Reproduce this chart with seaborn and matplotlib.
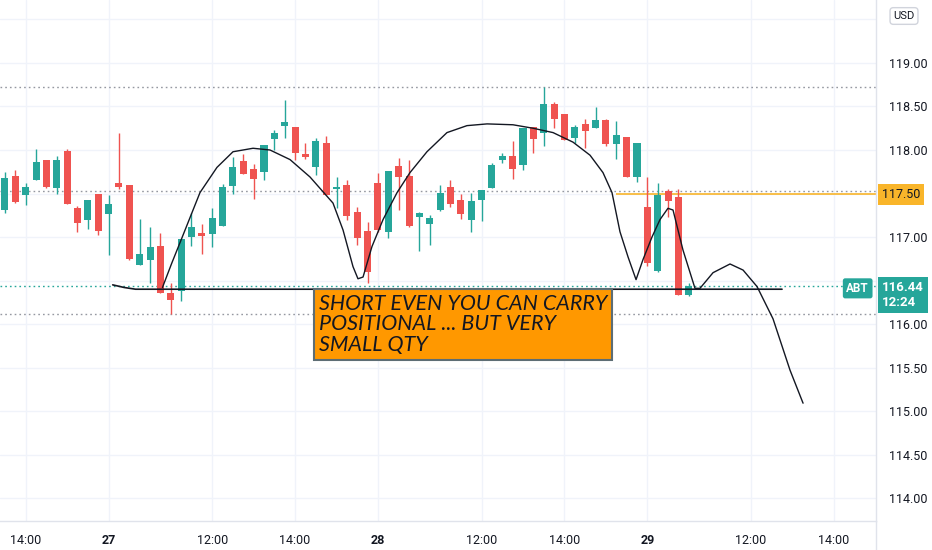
import numpy as np
import pandas as pd
import matplotlib
matplotlib.use('Agg')
import matplotlib.pyplot as plt
import matplotlib.transforms as mtransforms
import seaborn as sns

# ABT 15-minute bars, 26 -> 29
opens = [117.31, 117.70, 117.48, 117.66, 117.88, 117.56, 117.99, 117.33, 117.19, 117.49,
         117.27, 117.62, 117.60, 116.68, 116.74, 116.90, 116.36, 116.38, 117.00, 117.05,
         117.03, 117.13, 117.59, 117.87, 117.78, 117.75, 118.13, 118.28, 118.26, 117.95,
         117.81, 118.08, 117.55, 117.60, 117.29, 117.07, 117.62, 117.06, 117.82, 117.70,
         117.23, 117.15, 117.31, 117.57, 117.43, 117.19, 117.43, 117.56, 117.89, 117.93,
         117.83, 118.26, 118.20, 118.53, 118.41, 118.14, 118.30, 118.25, 118.34, 118.07,
         118.15, 117.69, 117.34, 116.61, 117.53, 117.46, 116.33]
highs = [117.75, 117.77, 117.62, 118.01, 117.89, 117.93, 118.01, 117.36, 117.43, 117.49,
         117.48, 118.20, 117.60, 117.21, 117.11, 117.05, 116.47, 116.98, 117.28, 117.15,
         117.33, 117.61, 117.92, 117.95, 117.84, 118.06, 118.23, 118.57, 118.26, 118.08,
         118.14, 118.16, 117.69, 117.66, 117.35, 117.17, 117.74, 117.76, 117.91, 117.89,
         117.29, 117.25, 117.60, 117.66, 117.50, 117.51, 117.54, 117.85, 117.96, 118.10,
         118.25, 118.26, 118.72, 118.55, 118.41, 118.29, 118.36, 118.49, 118.36, 118.33,
         118.15, 118.08, 117.69, 117.62, 117.55, 117.55, 116.47]
lows = [117.28, 117.39, 117.37, 117.65, 117.56, 117.49, 117.38, 117.06, 117.09, 117.02,
        116.79, 117.55, 116.74, 116.68, 116.47, 116.36, 116.11, 116.27, 116.90, 116.81,
        116.88, 117.13, 117.49, 117.72, 117.44, 117.66, 118.00, 118.14, 117.89, 117.90,
        117.71, 117.48, 117.33, 117.20, 116.91, 116.47, 117.06, 116.99, 117.31, 117.12,
        116.84, 116.91, 117.30, 117.35, 117.21, 117.06, 117.18, 117.56, 117.85, 117.67,
        117.77, 117.97, 118.05, 118.25, 118.12, 118.08, 118.02, 118.25, 118.05, 117.90,
        117.69, 117.63, 116.67, 116.60, 117.23, 116.33, 116.32]
closes = [117.68, 117.40, 117.57, 117.86, 117.57, 117.89, 117.38, 117.16, 117.43, 117.07,
          117.38, 117.58, 116.75, 116.80, 116.89, 116.36, 116.28, 116.98, 117.11, 117.01,
          117.22, 117.57, 117.80, 117.72, 117.67, 118.06, 118.20, 118.32, 117.97, 117.92,
          118.10, 117.48, 117.58, 117.24, 116.99, 116.60, 117.08, 117.76, 117.69, 117.13,
          117.28, 117.22, 117.51, 117.38, 117.27, 117.41, 117.54, 117.83, 117.93, 117.78,
          118.25, 118.13, 118.53, 118.36, 118.12, 118.27, 118.22, 118.34, 118.07, 118.17,
          117.69, 118.08, 116.70, 117.48, 117.41, 116.33, 116.44]

# x axis labels (bar index -> label)
tick_idx = [2, 10, 20, 28, 36, 46, 54, 62, 72, 80]
tick_labels = ['14:00', '27', '12:00', '14:00', '28', '12:00', '14:00', '29', '12:00', '14:00']
day_labels = ['27', '28', '29']
price_ticks = [114.0, 114.5, 115.0, 115.5, 116.0, 116.5, 117.0, 117.5, 118.0, 118.5, 119.0, 119.5]
hidden_ticks = [116.5, 117.5, 119.5]   # covered by the price tags / currency box

# hand-drawn projection curve (bar index, price)
curve_i = [15.2, 16.1, 17.08, 18.82, 20.46, 22.01, 23.94, 25.58, 27.51, 29.44, 31.66, 32.63,
           33.59, 34.07, 34.56, 35.42, 36.49, 37.84, 39.09, 40.73, 42.66, 44.59, 46.53,
           49.03, 50.97, 52.90, 54.83, 56.47, 57.72, 58.59, 59.36, 60.14, 60.91, 61.58,
           62.45, 63.22, 63.99, 64.48, 65.44, 66.60, 67.08, 68.34, 69.98, 71.24, 72.59,
           74.13, 75.77, 77.03]
curve_p = [116.42, 116.70, 116.99, 117.51, 117.80, 117.98, 118.02, 118.00, 117.89, 117.69,
           117.39, 117.08, 116.66, 116.52, 116.54, 116.89, 117.20, 117.51, 117.74, 117.98,
           118.20, 118.28, 118.30, 118.29, 118.25, 118.20, 118.09, 117.94, 117.74, 117.51,
           117.06, 116.77, 116.51, 116.74, 117.00, 117.20, 117.33, 117.31, 116.85, 116.41,
           116.41, 116.59, 116.69, 116.62, 116.43, 116.06, 115.47, 115.09]

# neckline drawing
neck_i = [10.4, 11.5, 12.6, 75.0]
neck_p = [116.45, 116.42, 116.40, 116.40]

high_line = 118.72
low_line = 116.11
prev_line = 117.53
alert_line = 117.49
alert_start = 59.0
last_price = 116.44

GREEN = '#26a69a'
RED = '#ef5350'
ORANGE = '#f9b52a'
TXT = '#131722'

sns.set_theme(style='white')
plt.rcParams['font.family'] = ['Roboto', 'DejaVu Sans']

df = pd.DataFrame({'open': opens, 'high': highs, 'low': lows, 'close': closes})
df['i'] = np.arange(len(df))
colors = np.where(df['close'] >= df['open'], GREEN, RED)

fig = plt.figure(figsize=(9.32, 5.5), dpi=100)
ax = fig.add_axes([0, 29 / 550, 876 / 932, 521 / 550])
ax.set_xlim(-0.48, 84.07)
ax.set_ylim(113.736, 119.724)

ax.set_xticks(tick_idx)
ax.set_yticks(price_ticks)
ax.grid(True, color='#f0f3fa', lw=1)
ax.set_axisbelow(True)

# reference lines
dot = (0, (1.2, 2.2))
for lvl in [high_line, prev_line, low_line]:
    ax.axhline(lvl, color='#9598a1', lw=1, ls=dot, zorder=1)
ax.axhline(last_price, color=GREEN, lw=1, ls=dot, zorder=1)
ax.hlines(alert_line, alert_start, 84.07, color=ORANGE, lw=1.2, zorder=1)

# candles
ax.vlines(df['i'], df['low'], df['high'], colors=colors, lw=1, zorder=2)
body = (df['close'] - df['open']).abs().clip(lower=0.012)
ax.bar(df['i'], body, bottom=df[['open', 'close']].min(axis=1), width=0.68,
       color=colors, lw=0, zorder=3)

# drawings
sns.lineplot(x=neck_i, y=neck_p, sort=False, color=TXT, lw=1.2, ax=ax, zorder=4)
sns.lineplot(x=curve_i, y=curve_p, sort=False, color=TXT, lw=1.0, ax=ax, zorder=4)

ax.text(30.3, 116.35, 'SHORT EVEN YOU CAN CARRY\nPOSITIONAL ... BUT VERY\nSMALL QTY',
        ha='left', va='top', fontsize=15.5, style='italic', color=TXT,
        family=['Lato', 'DejaVu Sans'], linespacing=1.05, zorder=5,
        bbox=dict(boxstyle='square,pad=0.22', fc='#ff9800', ec='#5d6d74', lw=1.5))

# axes styling
ax.yaxis.tick_right()
ax.set_yticklabels(['' if v in hidden_ticks else f'{v:.2f}' for v in price_ticks])
ax.set_xticklabels(tick_labels)
ax.tick_params(axis='y', length=0, pad=9, labelsize=9, labelcolor=TXT)
ax.tick_params(axis='x', length=0, pad=9, labelsize=9, labelcolor=TXT)
for lab in ax.get_xticklabels():
    if lab.get_text() in day_labels:
        lab.set_fontweight('bold')
for side in ['top', 'left']:
    ax.spines[side].set_visible(False)
for side in ['right', 'bottom']:
    ax.spines[side].set_color('#e0e3eb')
    ax.spines[side].set_linewidth(1)
fig.add_artist(plt.Line2D([876 / 932, 876 / 932], [0, 29 / 550], color='#e0e3eb', lw=1))

# price tags on the scale
trans = mtransforms.blended_transform_factory(ax.transAxes, ax.transData)
ax.text(1 + 6 / 876, alert_line, f'{alert_line + 0.01:.2f}', transform=trans, ha='left',
        va='center', fontsize=9, color=TXT, clip_on=False, zorder=6,
        bbox=dict(boxstyle='square,pad=0.3', fc=ORANGE, ec='none'))
ax.text(1 + 6 / 876, last_price + 0.05, f'{last_price:.2f}\n12:24', transform=trans,
        ha='left', va='top', fontsize=9.5, color='white', fontweight='bold',
        linespacing=1.15, clip_on=False, zorder=6,
        bbox=dict(boxstyle='square,pad=0.3', fc=GREEN, ec='none'))
ax.text(1 - 7 / 876, last_price - 0.03, 'ABT', transform=trans, ha='right', va='center',
        fontsize=8.5, color='white', fontweight='bold', zorder=6,
        bbox=dict(boxstyle='round,pad=0.3,rounding_size=0.2', fc=GREEN, ec='none'))
fig.text(904 / 932, 1 - 16 / 550, 'USD', ha='center', va='center', fontsize=8, color=TXT,
         bbox=dict(boxstyle='round,pad=0.3,rounding_size=0.3', fc='white', ec='#d1d4dc'))

fig.savefig('out.png', dpi=100, facecolor='white')
